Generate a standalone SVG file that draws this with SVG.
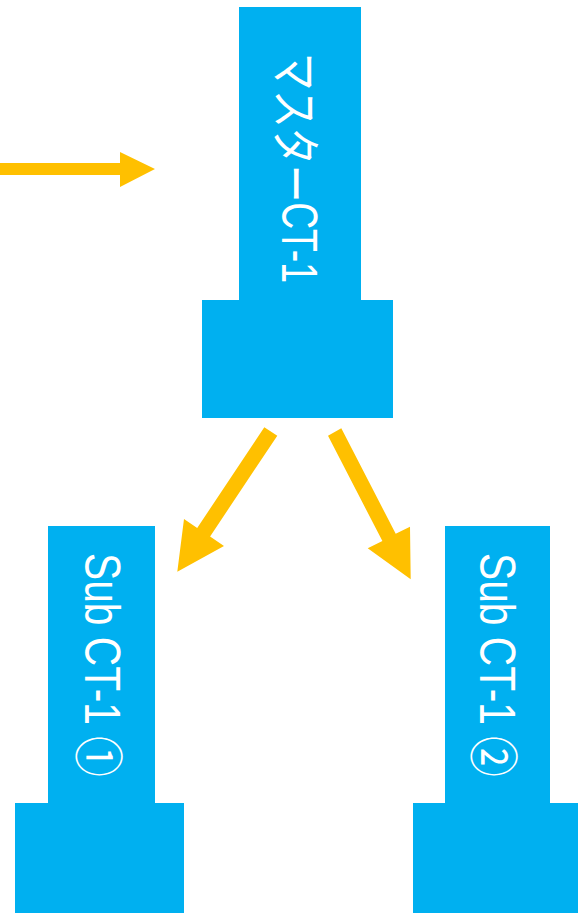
<svg xmlns="http://www.w3.org/2000/svg" width="580" height="913" viewBox="0 0 580 913">
<style>
.box{fill:#00B0F0}
.arrow{fill:#FFC000}
.lbl{fill:#FFFFFF;font-family:"Liberation Sans","Noto Sans CJK JP",sans-serif;font-size:50px;dominant-baseline:central}
.cj{font-family:"Noto Sans CJK JP",sans-serif}
</style>
<rect width="580" height="913" fill="#FFFFFF"/>
<g id="connectors">
<polygon class="arrow" points="0,163 120,163 120,152 155,169 120,187 120,175 0,175"/>
<polygon class="arrow" points="264.3,427.3 277.3,435.7 210.1,536.4 224,546 177.3,571.7 184,519 197.2,528"/>
<polygon class="arrow" points="328,435.7 341.3,428.3 395.7,533.7 410,526.7 410.7,579.3 367.7,548.3 382.4,541.1"/>
</g>
<g id="master">
<rect class="box" x="239" y="7" width="122" height="294"/>
<rect class="box" x="202" y="300" width="191" height="118"/>
<text class="lbl" transform="translate(299,53) rotate(90)" textLength="230" lengthAdjust="spacingAndGlyphs"><tspan class="cj">マスター</tspan>CT-1</text>
</g>
<g id="sub1">
<rect class="box" x="48" y="526" width="107" height="278"/>
<rect class="box" x="15" y="803" width="169" height="110"/>
<text class="lbl" transform="translate(102,553) rotate(90)" textLength="224" lengthAdjust="spacingAndGlyphs">Sub CT-1 <tspan class="cj">①</tspan></text>
</g>
<g id="sub2">
<rect class="box" x="445" y="526" width="105" height="278"/>
<rect class="box" x="413" y="803" width="165" height="110"/>
<text class="lbl" transform="translate(497,553) rotate(90)" textLength="224" lengthAdjust="spacingAndGlyphs">Sub CT-1 <tspan class="cj">②</tspan></text>
</g>
</svg>
